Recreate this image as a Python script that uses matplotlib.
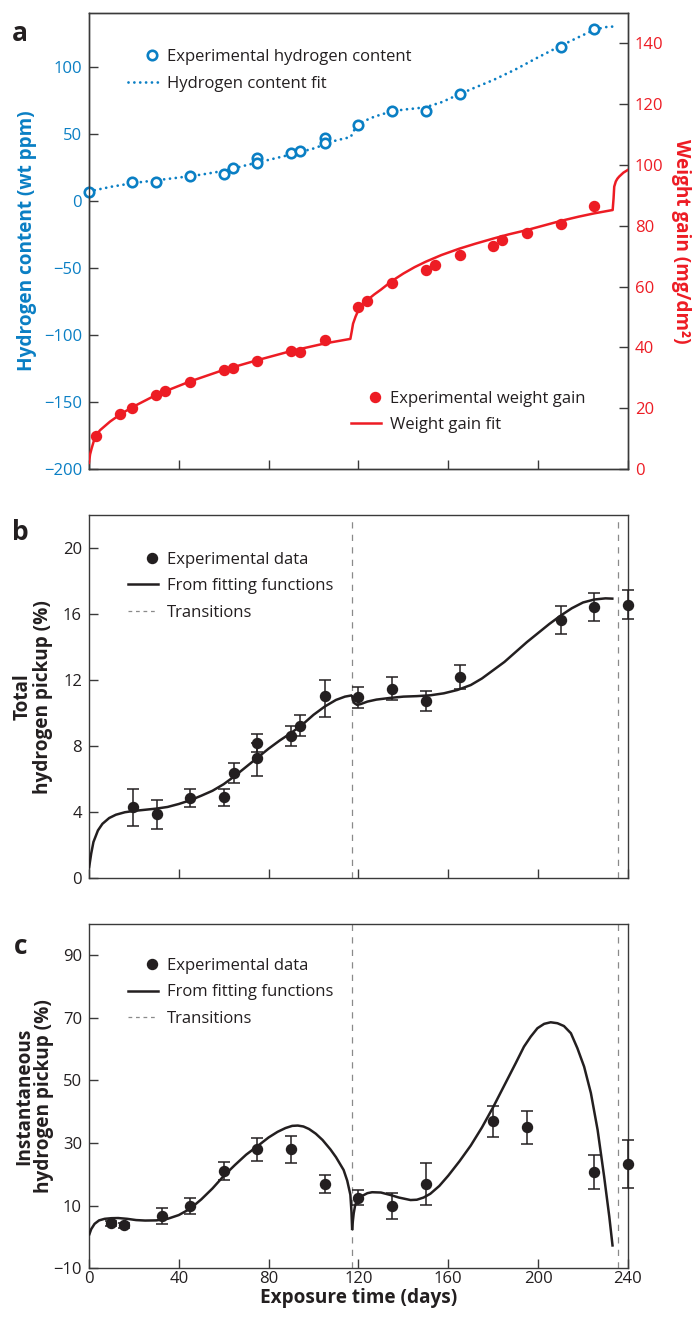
import matplotlib
matplotlib.use("Agg")
import matplotlib.pyplot as plt
from matplotlib.lines import Line2D
from matplotlib.legend_handler import HandlerLine2D
from matplotlib.ticker import MultipleLocator

plt.rcParams['font.family'] = ['Open Sans', 'DejaVu Sans']

BLUE = '#0a7fc4'
RED = '#ed1c24'
INK = '#231f20'
SPINE = '#3a3a3a'
GREY = '#8a8a8a'

# ---------------- Panel a: hydrogen content and weight gain ----------------
h_days = [0, 19.3, 30, 45, 60, 64, 75, 75, 90, 94, 105, 105,
          120, 135, 150, 165, 210, 225]
h_ppm = [6.8, 13.7, 14.3, 18.8, 20.0, 24.8, 32.0, 28.0, 35.5, 37.0, 46.8, 43.0,
         56.8, 67.0, 66.8, 79.8, 115.0, 128.0]

hfit_days = [0, 10, 20, 30, 40, 50, 60, 70, 80, 90, 100, 105, 110, 116.5,
             117.5, 118.5, 119.5, 122, 126, 130, 134, 140, 145, 150, 157, 165,
             172, 180, 190, 200, 210, 218, 225, 230, 234]
hfit_ppm = [7.0, 10.5, 13.3, 15.3, 17.3, 19.5, 22.3, 26.5, 30.5, 34.5, 39.0, 42.0,
            45.0, 47.5, 50.5, 54.0, 56.3, 59.0, 62.0, 64.3, 66.2, 68.0, 68.8, 69.8,
            73.5, 79.5, 84.5, 90.0, 98.0, 107.0, 115.5, 122.0, 127.5, 129.5, 130.0]

w_days = [3, 14, 19, 30, 34, 45, 60, 64, 75, 90, 94, 105,
          120, 124, 135, 150, 154, 165, 180, 184, 195, 210, 225]
w_gain = [11.0, 18.2, 20.2, 24.4, 25.7, 28.6, 32.6, 33.3, 35.6, 38.9, 38.5, 42.3,
          53.2, 55.2, 61.1, 65.5, 67.0, 70.3, 73.5, 75.3, 77.7, 80.7, 86.5]

wfit_days = [0, 0.5, 1.2, 2, 3, 5, 9.4, 14, 20, 30, 45, 60, 75, 90, 105, 116.4,
             117, 117.6, 118.7, 120, 121, 124, 127, 130, 135, 140, 145, 150, 157,
             165, 172, 180, 187, 195, 202, 210, 218, 225, 233.2, 233.6, 233.9,
             234.6, 235.3, 236.1, 238, 240]
wfit_gain = [2.0, 4.8, 6.8, 8.8, 11.0, 12.8, 15.6, 18.0, 20.6, 24.4, 28.8, 32.6,
             35.8, 38.8, 41.3, 42.8, 45.2, 47.8, 50.1, 52.3, 53.4, 55.6, 57.4,
             59.0, 61.9, 64.3, 66.4, 68.2, 70.4, 72.5, 74.1, 75.8, 77.2, 78.6,
             80.0, 81.6, 83.0, 84.1, 85.2, 89.0, 92.9, 94.6, 95.5, 96.2, 97.5, 98.4]

# ---------------- Panel b: total hydrogen pickup ----------------
b_days = [19.5, 30.5, 45, 60, 64.5, 75, 75, 90, 94, 105,
          120, 135, 150, 165, 210, 225, 240]
b_vals = [4.34, 3.88, 4.89, 4.93, 6.40, 8.18, 7.27, 8.64, 9.25, 11.05,
          10.97, 11.45, 10.76, 12.20, 15.66, 16.40, 16.55]
b_err_lo = [1.15, 0.89, 0.55, 0.55, 0.62, 0.55, 1.05, 0.60, 0.61, 1.30,
            0.67, 0.65, 0.62, 0.75, 0.86, 0.85, 0.88]
b_err_hi = [1.07, 0.87, 0.52, 0.50, 0.57, 0.57, 0.95, 0.61, 0.61, 0.97,
            0.64, 0.71, 0.59, 0.69, 0.84, 0.89, 0.88]

b1_days = [0, 1, 2, 4, 6, 9, 12, 16, 20, 25, 30, 35, 40, 45, 50, 55, 60, 65,
           70, 75, 80, 85, 90, 95, 100, 105, 110, 114, 117.2]
b1_vals = [0.6, 1.5, 2.2, 2.9, 3.3, 3.65, 3.85, 4.0, 4.08, 4.15, 4.22, 4.32,
           4.5, 4.72, 5.0, 5.3, 5.7, 6.2, 6.75, 7.3, 7.85, 8.35, 8.8, 9.3,
           9.9, 10.4, 10.8, 11.0, 11.08]
b2_days = [117.1, 117.5, 118.2, 119.4, 121, 124, 128, 134, 140, 146, 152, 158,
           164, 170, 175, 180, 185, 190, 195, 200, 205, 210, 215, 220, 225,
           230, 233.6]
b2_vals = [11.1, 10.8, 10.6, 10.5, 10.55, 10.7, 10.82, 10.92, 11.0, 11.03,
           11.08, 11.2, 11.4, 11.7, 12.1, 12.6, 13.1, 13.7, 14.3, 14.85, 15.4,
           15.9, 16.35, 16.7, 16.88, 16.95, 16.93]

# ---------------- Panel c: instantaneous hydrogen pickup ----------------
c_days = [10, 15.5, 32.5, 45, 60, 75, 90, 105,
          120, 135, 150, 180, 195, 225, 240]
c_vals = [4.4, 3.8, 6.7, 9.9, 21.1, 28.0, 28.0, 17.0,
          12.6, 9.9, 16.9, 37.0, 35.0, 20.8, 23.4]
c_err = [0.8, 0.8, 2.5, 2.6, 2.8, 3.6, 4.3, 2.8,
         2.5, 4.1, 6.6, 5.0, 5.4, 5.5, 7.6]

c1_days = [0, 1, 2.5, 4.5, 7, 10, 13, 17, 21, 25, 30, 35, 40, 45, 50, 55, 60,
           65, 70, 75, 80, 84, 87.5, 90.5, 93, 95.5, 98, 101, 104, 107.5, 110,
           113.4, 115, 116.4, 116.9, 117.2]
c1_vals = [0.5, 2.5, 4.2, 5.3, 5.8, 6.0, 6.05, 5.8, 5.4, 5.25, 5.3, 5.8, 7.0,
           9.0, 12.0, 15.5, 19.5, 23.0, 26.3, 29.0, 31.8, 33.6, 34.8, 35.5, 35.6,
           35.3, 34.5, 33.0, 31.0, 28.0, 25.5, 21.4, 18.0, 13.5, 8.0, 2.2]
c2_days = [117.2, 117.5, 117.9, 118.5, 119.4, 120.8, 122.4, 124, 126.1, 130,
           134.3, 138, 143.2, 146, 149, 152, 156, 160, 165, 170, 175, 180, 185,
           190, 193.7, 196.7, 199.7, 202.7, 205.6, 208.6, 211.5, 214.6, 217.5,
           220.5, 223.5, 226.5, 229.4, 231.7, 233.2]
c2_vals = [2.2, 5.0, 7.6, 10.0, 11.8, 12.9, 13.4, 14.0, 14.3, 14.2, 13.4, 12.6,
           11.8, 11.9, 12.6, 13.8, 16.3, 19.6, 24.2, 29.2, 35.0, 41.5, 48.5,
           55.5, 60.8, 64.0, 66.7, 68.1, 68.6, 68.3, 67.4, 65.1, 60.3, 54.4,
           46.0, 34.2, 19.3, 6.5, -3.1]

transitions = [117.2, 235.6]

x_ticks = [0, 40, 80, 120, 160, 200, 240]

# ---------------- Figure ----------------
fig = plt.figure(figsize=(6.95, 13.17), dpi=100)
L, W = 0.128, 0.7755
ax_a = fig.add_axes([L, 0.6439, W, 0.3462])
ax_w = ax_a.twinx()
ax_b = fig.add_axes([L, 0.3331, W, 0.2759])
ax_c = fig.add_axes([L, 0.0370, W, 0.2614])

TICK_FS = 12
LEG_FS = 12
LAB_FS = 13.7
DOTS = (0, (0.01, 2.1))


class MarkerRight(HandlerLine2D):
    """Legend handler that sits a lone marker towards the text side."""

    def get_xdata(self, legend, xdescent, ydescent, width, height, fontsize):
        xdata, xdata_marker = super().get_xdata(legend, xdescent, ydescent,
                                                width, height, fontsize)
        return [-xdescent + 0.6 * width, -xdescent + width], xdata_marker


LEG_KW = dict(loc='upper left', frameon=False, fontsize=LEG_FS,
              handlelength=1.8, handletextpad=0.55, borderpad=0,
              borderaxespad=0, labelcolor=INK)


def style_axes(ax):
    for s in ax.spines.values():
        s.set_color(SPINE)
        s.set_linewidth(1.0)
    ax.tick_params(direction='in', length=6.5, width=1.0, color=SPINE,
                   labelsize=TICK_FS, labelcolor=INK, pad=5)
    ax.tick_params(axis='x', pad=2)
    ax.tick_params(which='minor', direction='in', length=3, width=1.0,
                   color=SPINE)
    ax.set_xlim(0, 240)
    ax.set_xticks(x_ticks)


# ---- panel a ----
style_axes(ax_a)
style_axes(ax_w)
ax_a.set_ylim(-200, 140)
ax_a.set_yticks([-200, -150, -100, -50, 0, 50, 100])
ax_a.set_yticklabels(['\u2212200', '\u2212150', '\u2212100', '\u221250', '0', '50', '100'])
ax_a.tick_params(axis='y', labelcolor=BLUE)
ax_a.tick_params(axis='x', labelbottom=False)
ax_w.set_ylim(0, 150)
ax_w.set_yticks([0, 20, 40, 60, 80, 100, 120, 140])
ax_w.tick_params(axis='y', labelcolor=RED)

ax_a.plot(hfit_days, hfit_ppm, color=BLUE, lw=2.0, ls=DOTS,
          dash_capstyle='round', zorder=3)
ax_a.plot(h_days, h_ppm, ls='none', marker='o', ms=6.8, mfc='white',
          mec=BLUE, mew=1.9, zorder=4, clip_on=False)
ax_w.plot(wfit_days, wfit_gain, color=RED, lw=1.8, zorder=3)
ax_w.plot(w_days, w_gain, ls='none', marker='o', ms=7.2, color=RED, zorder=4)

ax_a.set_ylabel('Hydrogen content (wt ppm)', color=BLUE, fontsize=LAB_FS,
                fontweight='bold')
ax_a.yaxis.set_label_coords(-0.096, 0.5)
ax_w.set_ylabel('Weight gain (mg/dm\u00b2)', color=RED, fontsize=LAB_FS,
                fontweight='bold', rotation=270, labelpad=20)

h_marker = Line2D([], [], ls='none', marker='o', ms=6.8, mfc='white',
                  mec=BLUE, mew=1.9)
h_line = Line2D([], [], color=BLUE, lw=2.0, ls=DOTS, dash_capstyle='round')
ax_a.legend([h_marker, h_line],
            ['Experimental hydrogen content', 'Hydrogen content fit'],
            bbox_to_anchor=(0.0724, 0.922), labelspacing=0.68,
            handler_map={h_marker: MarkerRight()}, **LEG_KW)
w_marker = Line2D([], [], ls='none', marker='o', ms=7.2, color=RED)
w_line = Line2D([], [], color=RED, lw=1.8)
ax_w.legend([w_marker, w_line], ['Experimental weight gain', 'Weight gain fit'],
            bbox_to_anchor=(0.4855, 0.1715), labelspacing=0.62,
            handler_map={w_marker: MarkerRight()}, **LEG_KW)


def pickup_panel(ax, days, vals, err, segs, legend_anchor):
    for t in transitions:
        ax.axvline(t, color=GREY, lw=0.9, ls=(0, (5, 5)), zorder=1)
    for sd, sv in segs:
        ax.plot(sd, sv, color=INK, lw=1.8, zorder=3, solid_capstyle='butt')
    ax.errorbar(days, vals, yerr=err, fmt='o', ms=7.2, color=INK,
                ecolor=INK, elinewidth=1.1, capsize=4, capthick=1.1,
                zorder=4, clip_on=False)
    marker = Line2D([], [], ls='none', marker='o', ms=7.2, color=INK)
    handles = [marker,
               Line2D([], [], color=INK, lw=1.8),
               Line2D([], [], color=GREY, lw=0.9, ls=(0, (3, 3)))]
    ax.legend(handles, ['Experimental data', 'From fitting functions',
                        'Transitions'],
              bbox_to_anchor=legend_anchor, labelspacing=0.64,
              handler_map={marker: MarkerRight()}, **LEG_KW)


# ---- panel b ----
style_axes(ax_b)
ax_b.set_ylim(0, 22)
ax_b.set_yticks([0, 4, 8, 12, 16, 20])
ax_b.tick_params(axis='x', labelbottom=False)
pickup_panel(ax_b, b_days, b_vals, [b_err_lo, b_err_hi],
             [(b1_days, b1_vals), (b2_days, b2_vals)], (0.0724, 0.899))
ax_b.set_ylabel('Total\nhydrogen pickup (%)', fontsize=LAB_FS,
                fontweight='bold', color=INK, linespacing=1.0)
ax_b.yaxis.set_label_coords(-0.067, 0.5)

# ---- panel c ----
style_axes(ax_c)
ax_c.set_ylim(-10, 100)
ax_c.set_yticks([-10, 10, 30, 50, 70, 90])
ax_c.set_yticklabels(['\u221210', '10', '30', '50', '70', '90'])
ax_c.yaxis.set_minor_locator(MultipleLocator(20, offset=10))
ax_c.set_xticklabels([str(v) for v in x_ticks])
pickup_panel(ax_c, c_days, c_vals, c_err,
             [(c1_days, c1_vals), (c2_days, c2_vals)], (0.0724, 0.902))
ax_c.set_ylabel('Instantaneous\nhydrogen pickup (%)', fontsize=LAB_FS,
                fontweight='bold', color=INK, linespacing=1.0)
ax_c.yaxis.set_label_coords(-0.064, 0.5)
ax_c.set_xlabel('Exposure time (days)', fontsize=LAB_FS, fontweight='bold',
                color=INK, labelpad=1)

# panel letters
for letter, y in [('a', 0.9745), ('b', 0.5955), ('c', 0.2815)]:
    fig.text(0.029, y, letter, fontsize=19, fontweight='bold', color=INK,
             ha='center', va='center')

fig.savefig('out.png', dpi=100)
